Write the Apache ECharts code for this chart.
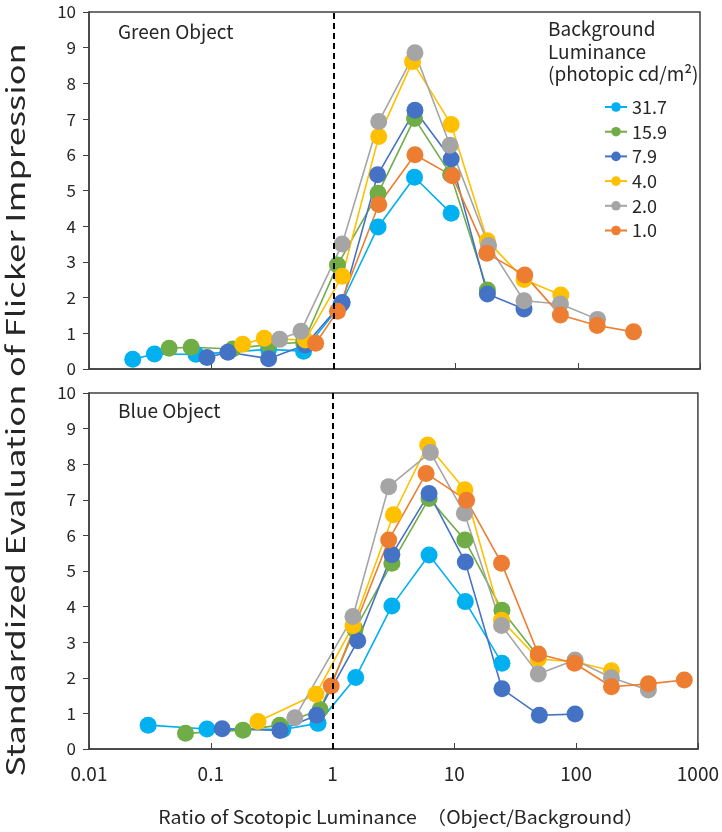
<!DOCTYPE html>
<html>
<head>
<meta charset="utf-8">
<script src="https://cdn.jsdelivr.net/npm/echarts@6/dist/echarts.min.js"></script>
<style>
  html, body { margin: 0; padding: 0; background: #fff; }
  #chart { width: 722px; height: 832px; }
</style>
</head>
<body>
<div id="chart"></div>
<script>
const names = ["31.7", "15.9", "7.9", "4.0", "2.0", "1.0"];
const colors = ["#00B0F0", "#70AD47", "#4472C4", "#FFC000", "#A5A5A5", "#ED7D31"];
const xTicks = [0.01, 0.1, 1, 10, 100, 1000];

// Green object panel, [ratio, evaluation]
const green317 = [[0.0228, 0.27], [0.0343, 0.42], [0.075, 0.41], [0.295, 0.55], [0.57, 0.5], [1.15, 1.8], [2.32, 3.98], [4.61, 5.37], [9.2, 4.36]];
const green159 = [[0.0453, 0.58], [0.0686, 0.61], [0.15, 0.56], [0.295, 0.69], [0.57, 0.75], [1.08, 2.91], [2.32, 4.92], [4.61, 7.02], [9.1, 5.45], [18.2, 2.21]];
const green79 = [[0.0923, 0.32], [0.137, 0.47], [0.295, 0.29], [0.589, 0.67], [1.18, 1.86], [2.3, 5.44], [4.65, 7.25], [9.2, 5.88], [18.2, 2.1], [36.3, 1.68]];
const green40 = [[0.181, 0.69], [0.272, 0.86], [0.589, 0.81], [1.18, 2.6], [2.35, 6.51], [4.44, 8.61], [9.2, 6.85], [18.2, 3.59], [36.3, 2.51], [72.6, 2.07]];
const green20 = [[0.363, 0.83], [0.543, 1.06], [1.18, 3.5], [2.35, 6.93], [4.65, 8.86], [9.0, 6.27], [18.6, 3.46], [36.3, 1.91], [72, 1.82], [145, 1.39]];
const green10 = [[0.716, 0.72], [1.08, 1.62], [2.35, 4.61], [4.65, 6.0], [9.4, 5.41], [18, 3.24], [36.8, 2.63], [72, 1.51], [144, 1.22], [286, 1.04]];

// Blue object panel
const blue317 = [[0.0306, 0.67], [0.093, 0.56], [0.39, 0.55], [0.76, 0.72], [1.55, 2.01], [3.07, 4.02], [6.2, 5.45], [12.3, 4.14], [24.6, 2.41]];
const blue159 = [[0.062, 0.44], [0.184, 0.53], [0.368, 0.67], [0.79, 1.11], [1.53, 3.36], [3.07, 5.22], [6.2, 7.04], [12.2, 5.87], [24.6, 3.9], [48.9, 2.6]];
const blue79 = [[0.124, 0.57], [0.37, 0.52], [0.74, 0.95], [1.61, 3.04], [3.07, 5.46], [6.2, 7.18], [12.3, 5.25], [24.6, 1.69], [49.9, 0.95], [98, 0.98]];
const blue40 = [[0.244, 0.77], [0.73, 1.54], [1.47, 3.46], [3.16, 6.58], [6.04, 8.54], [12.2, 7.28], [24.4, 3.62], [48.9, 2.53], [98, 2.45], [195, 2.2]];
const blue20 = [[0.49, 0.88], [1.47, 3.72], [2.89, 7.37], [6.36, 8.33], [12.1, 6.62], [24.4, 3.47], [48.9, 2.11], [98, 2.5], [195, 2.0], [392, 1.66]];
const blue10 = [[0.975, 1.77], [2.89, 5.87], [5.86, 7.74], [12.6, 6.99], [24.4, 5.22], [48.9, 2.67], [97, 2.41], [195, 1.75], [392, 1.83], [773, 1.94]];

const panels = [
  [green317, green159, green79, green40, green20, green10],
  [blue317, blue159, blue79, blue40, blue20, blue10],
];

const font = "'Noto Sans CJK JP', 'Noto Sans', sans-serif";
const ink = "#262626";

function xAxis(idx, showLabels) {
  return {
    type: "log",
    logBase: 10,
    gridIndex: idx,
    min: 0.01,
    max: 1000,
    axisLine: { lineStyle: { color: "#404040", width: 1.5 } },
    axisTick: { inside: true, length: 6, lineStyle: { color: "#404040" } },
    minorTick: { show: false },
    splitLine: { show: false },
    axisLabel: {
      show: showLabels,
      margin: 15,
      fontFamily: font,
      fontSize: 19,
      color: ink,
      formatter: (v) => String(xTicks.find((t) => Math.abs(Math.log10(t) - Math.log10(v)) < 1e-6) ?? v),
    },
  };
}

function yAxis(idx) {
  return {
    type: "value",
    gridIndex: idx,
    min: 0,
    max: 10,
    interval: 1,
    axisLine: { show: true, lineStyle: { color: "#404040", width: 1.5 } },
    axisTick: { show: true, length: 6, lineStyle: { color: "#404040" } },
    splitLine: { show: false },
    axisLabel: { margin: 13, fontFamily: font, fontSize: 17, color: ink },
  };
}

function makeSeries(panelIdx) {
  return panels[panelIdx].map((data, i) => {
    const s = {
      name: names[i],
      type: "line",
      xAxisIndex: panelIdx,
      yAxisIndex: panelIdx,
      data: data,
      symbol: "circle",
      symbolSize: 17,
      color: colors[i],
      lineStyle: { width: 1.6, color: colors[i] },
      itemStyle: { color: colors[i] },
      emphasis: { disabled: true },
      animation: false,
    };
    // dashed reference line at ratio = 1
    if (i === 0) {
      s.markLine = {
        silent: true,
        symbol: ["none", "none"],
        label: { show: false },
        lineStyle: { type: [6, 4], color: "#000", width: 2 },
        data: [{ xAxis: 1 }],
      };
    }
    return s;
  });
}

const chart = echarts.init(document.getElementById("chart"), null, { renderer: "canvas" });

chart.setOption({
  backgroundColor: "#fff",
  animation: false,
  grid: [
    { left: 89, right: 22, top: 12, height: 357, show: true, borderColor: "#404040", borderWidth: 1.5, backgroundColor: "transparent" },
    { left: 89, right: 22, top: 393, height: 356, show: true, borderColor: "#404040", borderWidth: 1.5, backgroundColor: "transparent" },
  ],
  xAxis: [xAxis(0, false), xAxis(1, true)],
  yAxis: [yAxis(0), yAxis(1)],
  legend: {
    data: names,
    orient: "vertical",
    left: 599,
    top: 92,
    itemWidth: 22,
    itemHeight: 12,
    itemGap: 4.7,
    selectedMode: false,
    textStyle: { fontFamily: font, fontSize: 18, lineHeight: 20, color: ink },
  },
  graphic: [
    { type: "text", left: 118, top: 22, style: { text: "Green Object", font: "19px " + font, fill: ink } },
    { type: "text", left: 118, top: 401, style: { text: "Blue Object", font: "19px " + font, fill: ink } },
    {
      type: "text",
      left: 548,
      top: 18,
      style: { text: "Background\nLuminance\n(photopic cd/m²)", font: "19px " + font, lineHeight: 22.5, fill: ink },
    },
    {
      type: "text",
      x: 401,
      y: 817,
      scaleX: 1.085,
      style: { text: "Ratio of Scotopic Luminance　（Object/Background）", font: "18px " + font, fill: ink, align: "center", verticalAlign: "middle" },
    },
    {
      type: "text",
      x: 15,
      y: 410,
      rotation: Math.PI / 2,
      scaleX: 1.38,
      style: { text: "Standardized Evaluation of Flicker Impression", font: "25px " + font, fill: ink, align: "center", verticalAlign: "middle" },
    },
  ],
  series: makeSeries(0).concat(makeSeries(1)),
});
</script>
</body>
</html>
